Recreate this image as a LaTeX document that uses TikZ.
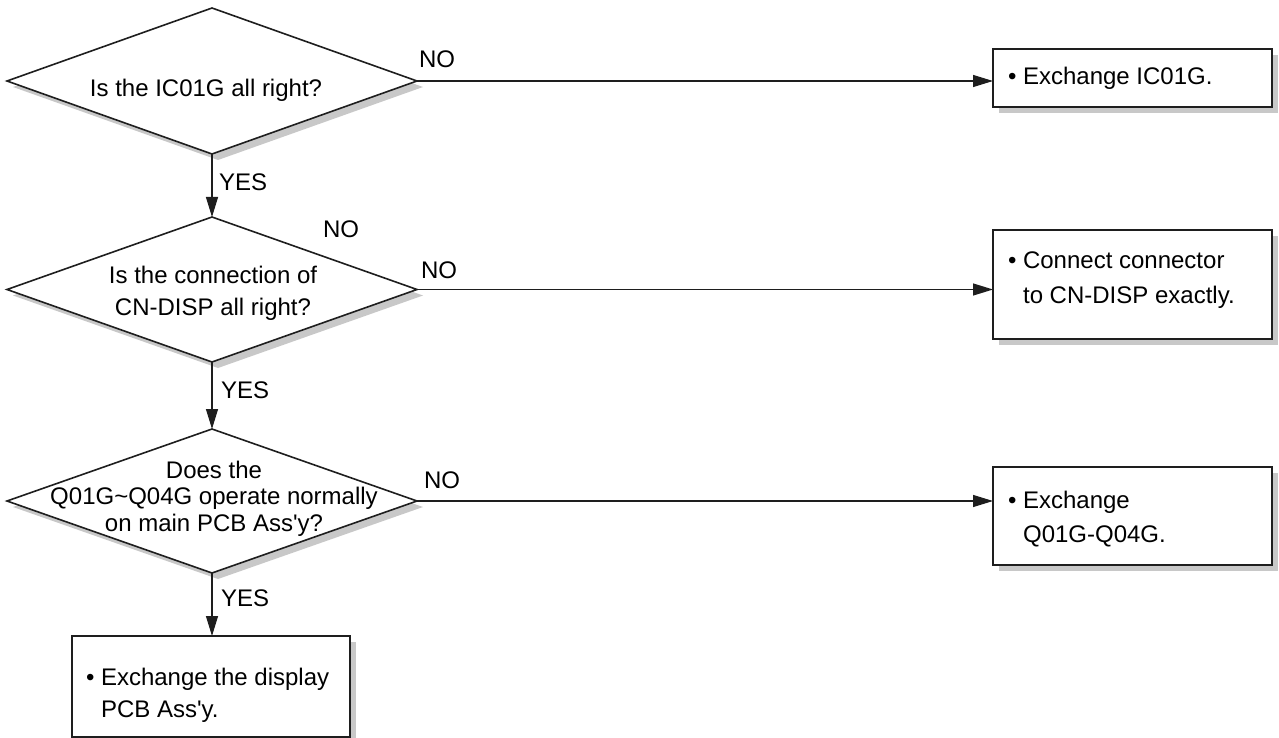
\documentclass[tikz,border=0pt]{standalone}
\usepackage{fontspec}
\setmainfont{Liberation Sans}
\usetikzlibrary{shapes.geometric,shadows,arrows.meta}
\begin{document}
\begin{tikzpicture}[x=1pt,y=-1pt,
  shad/.style={drop shadow={shadow xshift=6pt,shadow yshift=-6pt,fill=shadowgray,opacity=1}},
  dia/.style={diamond,draw=linecol,line width=1.6pt,fill=white,shad,inner sep=0pt,outer sep=0pt,minimum width=410pt},
  box/.style={rectangle,draw=linecol,line width=1.6pt,fill=white,shad,inner sep=0pt,outer sep=0pt,minimum width=279pt},
  txt/.style={inner sep=0pt,outer sep=0pt,font=\fontsize{24}{34}\selectfont,text=black},
  lbl/.style={txt,anchor=base west},
  conn/.style={draw=linecol,line width=1.2pt,-{Triangle[length=20pt,width=12pt]}}
]
\definecolor{shadowgray}{RGB}{200,200,200}
\definecolor{linecol}{RGB}{30,30,30}
\useasboundingbox (0,0) rectangle (1279,738);

% decision diamonds
\node[dia,minimum height=146pt] (d1) at (212,81) {};
\node[dia,minimum height=145pt] (d2) at (212,289.5) {};
\node[dia,minimum height=144pt] (d3) at (212,501) {};

% action boxes
\node[box,minimum height=58pt] (b1) at (1132.5,78) {};
\node[box,minimum height=109pt] (b2) at (1132.5,284.5) {};
\node[box,minimum height=98pt] (b3) at (1132.5,516) {};
\node[box,minimum width=278pt,minimum height=101pt] (b4) at (211,686.5) {};

% diamond texts
\node[txt,anchor=base] (t1) at (206,97) {Is the IC01G all right?};
\node[txt,anchor=base,font=\fontsize{24}{32}\selectfont] (t2) at (213,283)
  {\begin{tabular}[t]{@{}c@{}}Is the connection of\\CN-DISP all right?\end{tabular}};
\node[txt,anchor=base,font=\fontsize{24}{26.5}\selectfont] (t3) at (214,478)
  {\begin{tabular}[t]{@{}c@{}}Does the\\Q01G\textasciitilde Q04G operate normally\\on main PCB Ass\textquotesingle y?\end{tabular}};

% box texts
\node[lbl] (tb1) at (1008,85) {• Exchange IC01G.};
\node[lbl,font=\fontsize{24}{35}\selectfont] (tb2) at (1008,268)
  {\begin{tabular}[t]{@{}l@{}}• Connect connector\\\hphantom{•\ }to CN-DISP exactly.\end{tabular}};
\node[lbl] (tb3) at (1008,508)
  {\begin{tabular}[t]{@{}l@{}}• Exchange\\\hphantom{•\ }Q01G-Q04G.\end{tabular}};
\node[lbl,font=\fontsize{24}{32}\selectfont] (tb4) at (86,685)
  {\begin{tabular}[t]{@{}l@{}}• Exchange the display\\\hphantom{•\ }PCB Ass\textquotesingle y.\end{tabular}};

% connectors
\draw[conn] (d1.south) -- (d2.north);
\draw[conn] (d2.south) -- (d3.north);
\draw[conn] (d3.south) -- (d3.south |- b4.north);
\draw[conn] (d1.east) -- (d1.east -| b1.west);
\draw[conn] (d2.east) -- (d2.east -| b2.west);
\draw[conn] (d3.east) -- (d3.east -| b3.west);

% labels
\node[lbl] (no1) at (419,68) {NO};
\node[lbl] (nox) at (323,237) {NO};
\node[lbl] (no2) at (421,278) {NO};
\node[lbl] (no3) at (424,488) {NO};
\node[lbl] (yes1) at (219,190) {YES};
\node[lbl] (yes2) at (221,398) {YES};
\node[lbl] (yes3) at (221,606) {YES};
\end{tikzpicture}
\end{document}
